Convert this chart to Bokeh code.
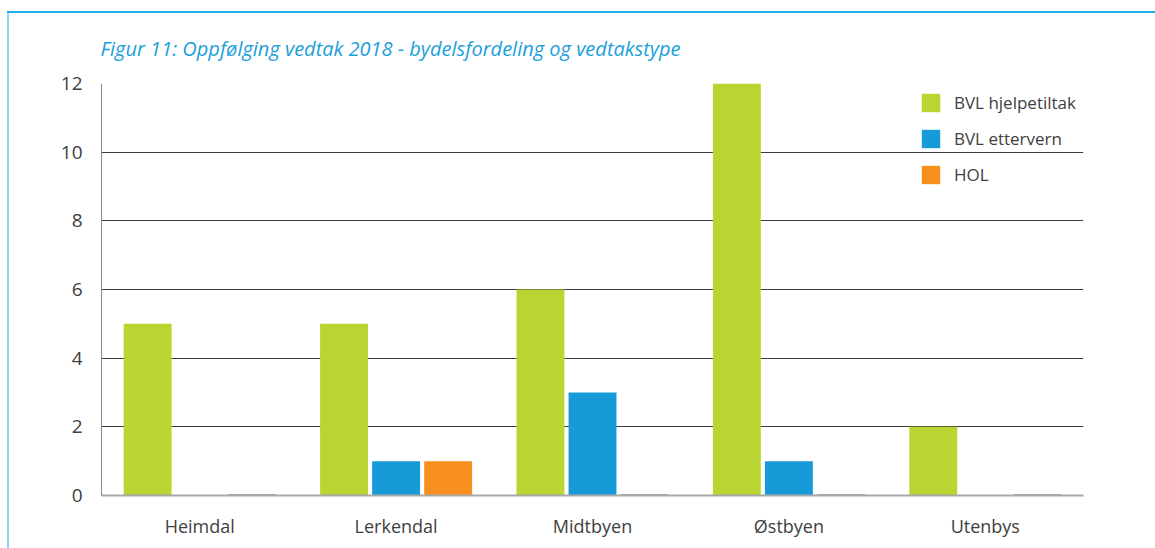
from bokeh.plotting import figure
from bokeh.models import ColumnDataSource, FactorRange, Legend, LegendItem, Title
from bokeh.transform import dodge
from bokeh.embed import file_html
from bokeh.resources import INLINE

categories = ["Heimdal", "Lerkendal", "Midtbyen", "Østbyen", "Utenbys"]
series_names = ["BVL hjelpetiltak", "BVL ettervern", "HOL"]
bvl_hjelpetiltak = [5, 5, 6, 12, 2]
bvl_ettervern = [0, 1, 3, 1, 0]
hol = [0, 1, 0, 0, 0]
y_ticks = [0, 2, 4, 6, 8, 10, 12]
title_text = "Figur 11: Oppfølging vedtak 2018 - bydelsfordeling og vedtakstype"

colors = ["#b9d532", "#169bd8", "#f7901e"]
FONT = "Open Sans"

W, H = 1155, 548
left, right, top, bottom = 101, 72, 83, 53

p = figure(x_range=FactorRange(*categories), y_range=(0, 12.0),
           width=W, height=H, output_backend="svg", toolbar_location=None,
           min_border_left=left, min_border_right=right,
           min_border_top=top, min_border_bottom=bottom)
p.border_fill_color = None
p.background_fill_color = None
p.styles = {
    "background": ("linear-gradient(#1ab0ec,#1ab0ec) 7px 11px / 1150px 2px no-repeat, "
                   "linear-gradient(#8fd6f5,#8fd6f5) 7px 11px / 2px 540px no-repeat, white"),
}

src = ColumnDataSource(dict(cat=categories, a=bvl_hjelpetiltak, b=bvl_ettervern, c=hol,
                            c_line=["#5a5a5a" if v == 0 else "rgba(0,0,0,0)" for v in hol]))

bw = 0.244
off = 0.265
r1 = p.vbar(x=dodge("cat", -off, range=p.x_range), top="a", width=bw, source=src,
            fill_color=colors[0], line_color=None)
r2 = p.vbar(x=dodge("cat", 0, range=p.x_range), top="b", width=bw, source=src,
            fill_color=colors[1], line_color=None)
r3 = p.vbar(x=dodge("cat", off, range=p.x_range), top="c", width=bw, source=src,
            fill_color=colors[2], line_color=None)
p.vbar(x=dodge("cat", off, range=p.x_range), top="c", width=bw, source=src,
       fill_color=None, line_color="c_line", line_width=2)

p.outline_line_color = None
p.xgrid.grid_line_color = None
p.ygrid.grid_line_color = "#3c3c3c"
p.ygrid.grid_line_width = 1
p.yaxis.ticker = y_ticks

p.yaxis.axis_line_color = "#8a8a8a"
p.yaxis.axis_line_width = 1
p.yaxis.major_tick_line_color = None
p.yaxis.minor_tick_line_color = None
p.yaxis.major_label_standoff = 13
p.yaxis.major_label_text_font = FONT
p.yaxis.major_label_text_font_size = "19px"
p.yaxis.major_label_text_color = "#404040"

p.xaxis.axis_line_color = "#a8a8a8"
p.xaxis.axis_line_width = 2
p.xaxis.major_tick_line_color = None
p.xaxis.minor_tick_line_color = None
p.xaxis.major_label_standoff = 12
p.xaxis.major_label_text_font = FONT
p.xaxis.major_label_text_font_size = "18px"
p.xaxis.major_label_text_color = "#404040"

legend = Legend(items=[LegendItem(label=series_names[0], renderers=[r1]),
                       LegendItem(label=series_names[1], renderers=[r2]),
                       LegendItem(label=series_names[2], renderers=[r3])],
                location=(818, 309), orientation="vertical",
                glyph_width=23, glyph_height=23, label_standoff=12,
                spacing=13, padding=0, margin=0,
                label_text_font=FONT, label_text_font_size="17px",
                label_text_color="#404040",
                border_line_color=None, background_fill_alpha=0)
p.add_layout(legend)

p.add_layout(Title(text=title_text, align="left", text_font=FONT, text_font_style="italic",
                   text_font_size="20px", text_color="#1ba0db",
                   standoff=43, offset=-1), "above")

open("out.html", "w").write(file_html(p, INLINE))
